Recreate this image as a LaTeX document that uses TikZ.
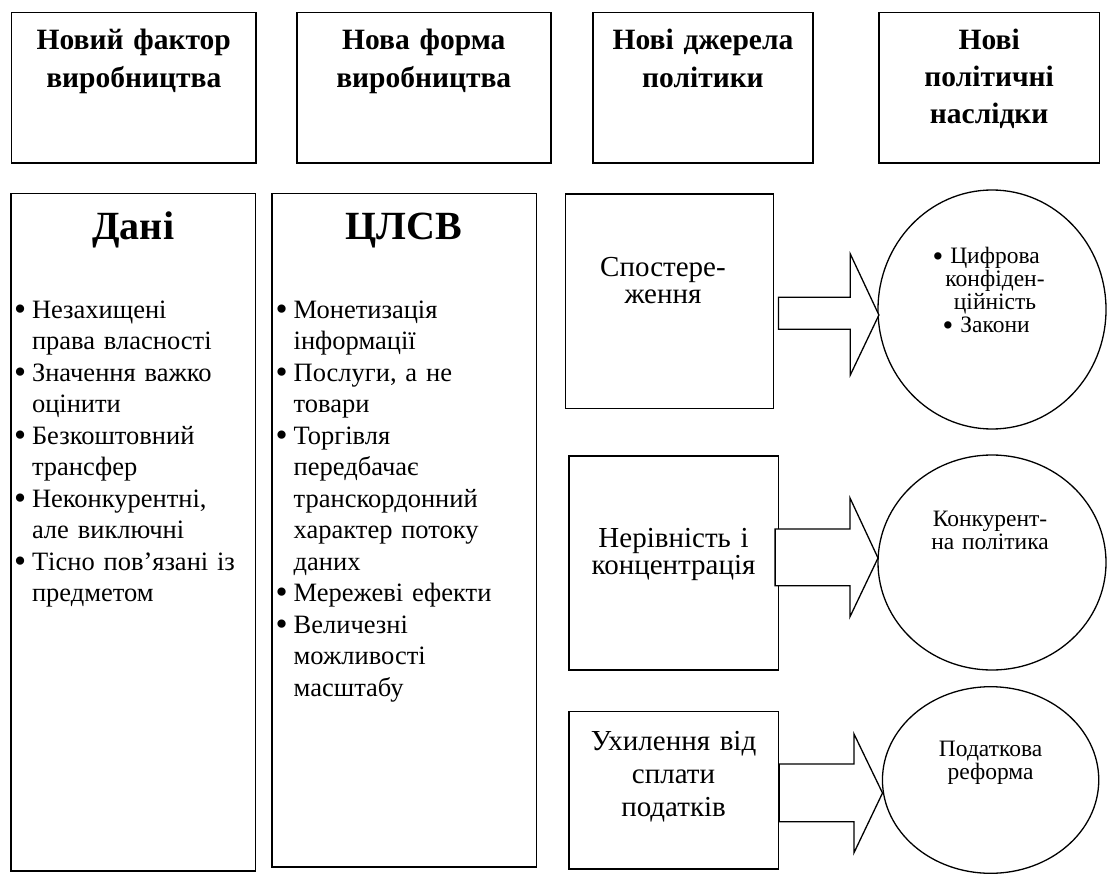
\documentclass[tikz,border=0pt]{standalone}
\usepackage{fontspec}
\setmainfont{Liberation Serif}
\usetikzlibrary{shapes.geometric,calc}
\newlength\hind
\setlength\hind{18pt}
\makeatletter
\newcommand\bdot{\smash{\raisebox{-0.09em}{\fontsize{\fpeval{1.3*\f@size}}{0}\selectfont •}}}
\makeatother
\newcommand\Bul[1]{\makebox[\hind][l]{\bdot}\mbox{#1}\par}
\newcommand\Cnt[1]{\hspace*{\hind}\mbox{#1}\par}
\newcommand\BulJ[1]{\makebox[\hind][l]{\bdot}\makebox[\dimexpr\linewidth-\hind\relax][s]{#1}\par}
\newcommand\CntJ[1]{\hspace*{\hind}\makebox[\dimexpr\linewidth-\hind\relax][s]{#1}\par}
\newcommand\hbul{\leavevmode\llap{\bdot\hspace{7pt}}}
\begin{document}
\begin{tikzpicture}[x=1pt,y=-1pt,
  boxst/.style={draw, line width=1.5pt, inner sep=0pt, anchor=north west},
  ovalst/.style={draw, ellipse, line width=1.3pt, inner sep=0pt},
  headst/.style={inner sep=0pt, anchor=base, align=center, text width=210pt,
    font=\fontsize{29.5}{37.5}\selectfont\bfseries},
  bigst/.style={inner sep=0pt, anchor=base, font=\fontsize{40}{48}\selectfont\bfseries},
  listst/.style={inner sep=0pt, anchor=base west, align=left,
    font=\fontsize{26.5}{31.5}\selectfont},
  srcst/.style={inner sep=0pt, anchor=base, align=center, text width=200pt,
    font=\fontsize{29}{27}\selectfont},
  ovtxt/.style={inner sep=0pt, anchor=base, align=center, text width=180pt,
    font=\fontsize{23.5}{23}\selectfont},
  blk/.style={draw, line width=1.3pt, line join=miter, fill=white},
]
\useasboundingbox (0,0) rectangle (1107,874);

% top header boxes
\node[boxst, minimum width=244.7pt, minimum height=150.6pt] (h1) at (10.7,11.7) {};
\node[boxst, minimum width=254pt, minimum height=150.6pt] (h2) at (296,11.7) {};
\node[boxst, minimum width=219.6pt, minimum height=150.6pt] (h3) at (592.4,11.7) {};
\node[boxst, minimum width=220.8pt, minimum height=150.6pt] (h4) at (878,11.7) {};
\node[headst] (h1t) at (h1.north |- 0,50) {Новий фактор\\виробництва};
\node[headst] (h2t) at (h2.north |- 0,50) {Нова форма\\виробництва};
\node[headst] (h3t) at (h3.north |- 0,50) {Нові джерела\\політики};
\node[headst, font=\fontsize{29.5}{37}\selectfont\bfseries] (h4t) at (h4.north |- 0,50) {Нові\\політичні\\наслідки};

% left columns
\node[boxst, minimum width=244.5pt, minimum height=677.3pt] (dani) at (10.3,192.7) {};
\node[boxst, minimum width=264.5pt, minimum height=673.3pt] (clsv) at (271,192.7) {};
\node[bigst] (danit) at (dani.north |- 0,240) {Дані};
\node[bigst] (clsvt) at (clsv.north |- 0,240) {ЦЛСВ};

\node[listst, text width=218.6pt] (danil) at (13.8,318) {%
\Bul{Незахищені}
\Cnt{права власності}
\BulJ{Значення важко}
\Cnt{оцінити}
\Bul{Безкоштовний}
\Cnt{трансфер}
\Bul{Неконкурентні,}
\Cnt{але виключні}
\Bul{Тісно пов’язані із}
\Cnt{предметом}};

\node[listst, text width=239.5pt] (clsvl) at (275.5,318) {%
\Bul{Монетизація}
\Cnt{інформації}
\BulJ{Послуги, а не}
\Cnt{товари}
\Bul{Торгівля}
\Cnt{передбачає}
\Cnt{транскордонний}
\CntJ{характер потоку}
\Cnt{даних}
\Bul{Мережеві ефекти}
\Bul{Величезні}
\Cnt{можливості}
\Cnt{масштабу}};

% source boxes
\node[boxst, minimum width=207.9pt, minimum height=214.4pt] (srcA) at (564.6,193.3) {};
\node[boxst, minimum width=209.6pt, minimum height=214.3pt] (srcB) at (568,455) {};
\node[boxst, minimum width=209.6pt, minimum height=157.6pt] (srcC) at (568,710.7) {};
\node[srcst] (srcAt) at (663,277) {Спостере-\\ження};
\node[srcst] (srcBt) at (srcB.north |- 0,547) {Нерівність і\\концентрація};
\node[srcst, font=\fontsize{29}{33}\selectfont] (srcCt) at (srcC.north |- 0,750) {Ухилення від\\сплати\\податків};

% outcome ovals
\node[ovalst, minimum width=228pt, minimum height=239pt] (ovA) at (992,309.5) {};
\node[ovalst, minimum width=228pt, minimum height=215pt] (ovB) at (992,562.5) {};
\node[ovalst, minimum width=216.3pt, minimum height=186.6pt] (ovC) at (990.6,780) {};
\node[ovtxt] (ovAt) at (995,264) {\hbul Цифрова\\конфіден-\\ційність\\\hbul Закони};
\node[ovtxt] (ovBt) at (990,526) {Конкурент-\\на політика};
\node[ovtxt] (ovCt) at (990.6,756) {Податкова\\реформа};

% block arrows
\coordinate (tipA) at (878.9,315);
\coordinate (tipB) at (878,558);
\coordinate (tipC) at (882.5,793);
\draw[blk] ($(srcA.east |- tipA)+(4.5,-17.7)$) -- (850.3,297.3) -- (850.3,254) -- (tipA)
  -- (850.3,375) -- (850.3,329.3) -- ($(srcA.east |- tipA)+(4.5,14.3)$) -- cycle;
\draw[blk] ($(srcB.east |- tipB)+(-4,-29)$) -- (850,529) -- (850,498) -- (tipB)
  -- (850,616.7) -- (850,585.7) -- ($(srcB.east |- tipB)+(-4,27.7)$) -- cycle;
\draw[blk] ($(srcC.east |- tipC)+(0,-29)$) -- (854,764) -- (854,734) -- (tipC)
  -- (854,852.7) -- (854,821.7) -- ($(srcC.east |- tipC)+(0,28.7)$) -- cycle;
\end{tikzpicture}
\end{document}
